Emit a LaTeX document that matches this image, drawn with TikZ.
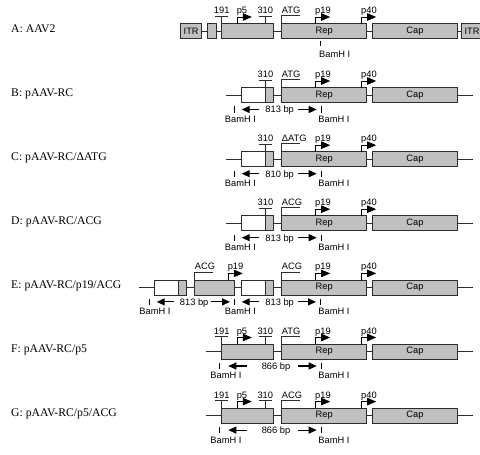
\documentclass[tikz,border=0pt]{standalone}
\usepackage{fontspec}
\setmainfont{Liberation Serif}
\newfontfamily\arialf{Liberation Sans}
\usetikzlibrary{arrows.meta,calc}
\definecolor{boxgray}{RGB}{192,192,192}
\definecolor{linec}{RGB}{45,45,45}
\newcommand\lab{\arialf\fontsize{9.3}{11}\selectfont}
\newcommand\rowf{\fontsize{11.7}{14}\selectfont}
\tikzset{
  gbox/.style={draw=linec, fill=boxgray, line width=0.8pt, minimum height=15pt, inner sep=0pt, font=\lab},
  wbox/.style={gbox, fill=white},
  lbl/.style={font=\lab, inner sep=0pt, anchor=base},
  lblw/.style={lbl, anchor=base west},
  rowlab/.style={font=\rowf, inner sep=0pt, anchor=base west},
  bb/.style={draw=linec, line width=0.8pt},
  mk/.style={draw=linec, line width=0.8pt},
  tk/.style={draw=black, line width=0.9pt},
  parr/.style={draw=black, line width=0.8pt, -{Triangle[length=9pt,width=7.4pt]}},
  darr/.style={draw=black, line width=1.1pt, -{Triangle[length=8pt,width=7pt]}}
}
% x, y, text, name : tick mark with label
\newcommand\mkbar[4]{%
  \draw[mk] (#1-6.3,#2-15) -- (#1+6.3,#2-15);
  \draw[mk] (#1,#2-15) -- (#1,#2-7.5);
  \node[lbl] (#4) at (#1,#2-17.5) {#3};}
% x, y, text, name : promoter arrow
\newcommand\prom[4]{%
  \draw[parr] (#1,#2-7.5) -- (#1,#2-14) -- (#1+14.5,#2-14);
  \node[lblw] (#4) at (#1-0.7,#2-17.5) {#3};}
% box, x, y, text, name : start codon
\newcommand\startc[5]{%
  \draw[mk] (#1.north west) -- ++(0,-7.5) -- ++(19,0);
  \node[lblw] (#5) at (#2,#3-17.5) {#4};}
% y, suffix, start text
\newcommand\repcap[3]{%
  \node[gbox,minimum width=85pt] (rep#2) at (324.2,#1) {Rep};
  \node[gbox,minimum width=85.4pt] (cap#2) at (415,#1) {Cap};
  \draw[bb] (rep#2) -- (cap#2);
  \startc{rep#2}{281.7}{#1}{#3}{st#2}
  \prom{315.7}{#1}{p19}{pn19#2}
  \prom{361.7}{#1}{p40}{pn40#2}}
% x, y, name : BamH I cut tick
\newcommand\bam[3]{%
  \coordinate (#3) at (#1,#2+14.5);
  \draw[tk] (#1,#2+11.3) -- (#1,#2+17.7);}
% x, y, name : BamH I label
\newcommand\bamlab[3]{\node[lbl] (#3) at (#1,#2+27.4) {BamH I};}
% y, ltip, ltail, textx, text, rtail, rtip, name
\newcommand\bpspan[8]{%
  \draw[darr] (#3,#1+14.5) -- (#2,#1+14.5);
  \node[lbl] (#8) at (#4,#1+17.9) {#5};
  \draw[darr] (#6,#1+14.5) -- (#7,#1+14.5);}
% y, suffix, start text, bp text : rows B, C, D
\newcommand\rcrow[4]{%
  \coordinate (s#2) at (226,#1);
  \node[wbox,minimum width=23.6pt] (w#2) at (253.5,#1) {};
  \node[gbox,minimum width=8pt] (g#2) at (269.3,#1) {};
  \repcap{#1}{#2}{#3}
  \coordinate (e#2) at (472.5,#1);
  \draw[bb] (s#2) -- (w#2);
  \draw[bb] (g#2) -- (rep#2);
  \draw[bb] (cap#2) -- (e#2);
  \mkbar{265.5}{#1}{310}{m310#2}
  \bam{234}{#1}{cl#2}
  \bam{321}{#1}{cr#2}
  \bpspan{#1}{241.7}{259.3}{279.7}{#4}{298.3}{316.7}{bp#2}
  \bamlab{240.5}{#1}{bnl#2}
  \bamlab{334}{#1}{bnr#2}}
% y, suffix, start text : rows F, G
\newcommand\pfrow[3]{%
  \coordinate (s#2) at (206,#1);
  \node[gbox,minimum width=51.6pt] (p5#2) at (247.5,#1) {};
  \repcap{#1}{#2}{#3}
  \coordinate (e#2) at (472.5,#1);
  \draw[bb] (s#2) -- (p5#2);
  \draw[bb] (p5#2) -- (rep#2);
  \draw[bb] (cap#2) -- (e#2);
  \mkbar{221.7}{#1}{191}{m191#2}
  \prom{237.3}{#1}{p5}{pn5#2}
  \mkbar{265.3}{#1}{310}{m310#2}
  \bam{219}{#1}{cl#2}
  \bam{321}{#1}{cr#2}
  \bpspan{#1}{228.3}{247.3}{276}{866 bp}{298.3}{316.7}{bp#2}
  \bamlab{226}{#1}{bnl#2}
  \bamlab{334}{#1}{bnr#2}}
\begin{document}
\begin{tikzpicture}[x=1pt,y=-1pt]
\useasboundingbox (0,0) rectangle (480,455);
\clip (0,0) rectangle (480,455);
\fill[white] (0,0) rectangle (480,455);

% Row labels
\node[rowlab] (labA) at (11,32.2) {A: AAV2};
\node[rowlab] (labB) at (11,96.2) {B: pAAV-RC};
\node[rowlab] (labC) at (11,160.4) {C: pAAV-RC/ΔATG};
\node[rowlab] (labD) at (11,224.4) {D: pAAV-RC/ACG};
\node[rowlab] (labE) at (11,288.6) {E: pAAV-RC/p19/ACG};
\node[rowlab] (labF) at (11,352.7) {F: pAAV-RC/p5};
\node[rowlab] (labG) at (11,416.8) {G: pAAV-RC/p5/ACG};

% Row A
\node[gbox,minimum width=21pt] (itrL) at (191.2,31) {ITR};
\node[gbox,minimum width=8.7pt] (smA) at (211.65,31) {};
\node[gbox,minimum width=51.6pt] (p5A) at (247.5,31) {};
\repcap{31}{A}{ATG}
\node[gbox,minimum width=22pt] (itrR) at (472,31) {ITR};
\draw[bb] (itrL) -- (smA);
\draw[bb] (smA) -- (p5A);
\draw[bb] (p5A) -- (repA);
\draw[bb] (capA) -- (itrR);
\mkbar{221.7}{31}{191}{m191A}
\prom{237.3}{31}{p5}{pn5A}
\mkbar{265.3}{31}{310}{m310A}
\coordinate (cutA) at (320.7,40.5);
\draw[tk] (cutA) -- (320.7,46);
\node[lblw] (bnA) at (319,57.4) {BamH I};

% Rows B, C, D
\rcrow{95}{B}{ATG}{813 bp}
\rcrow{159.2}{C}{ΔATG}{810 bp}
\rcrow{223.2}{D}{ACG}{813 bp}

% Row E
\coordinate (sE) at (139,287.4);
\node[wbox,minimum width=23.6pt] (wE1) at (166.1,287.4) {};
\node[gbox,minimum width=8pt] (gE1) at (181.9,287.4) {};
\node[gbox,minimum width=39.6pt] (aE) at (214.5,287.4) {};
\node[wbox,minimum width=23.6pt] (wE2) at (253.5,287.4) {};
\node[gbox,minimum width=8pt] (gE2) at (269.3,287.4) {};
\repcap{287.4}{E}{ACG}
\coordinate (eE) at (472.5,287.4);
\draw[bb] (sE) -- (wE1);
\draw[bb] (gE1) -- (aE);
\draw[bb] (aE) -- (wE2);
\draw[bb] (gE2) -- (repE);
\draw[bb] (capE) -- (eE);
\startc{aE}{194.7}{287.4}{ACG}{stE1}
\prom{228.3}{287.4}{p19}{pn19E1}
\bam{149}{287.4}{c1E}
\bam{234}{287.4}{c2E}
\bam{320}{287.4}{c3E}
\bpspan{287.4}{156.7}{174}{194.2}{813 bp}{211}{230}{bpE1}
\bpspan{287.4}{241.7}{259.3}{279.7}{813 bp}{298.3}{316}{bpE2}
\bamlab{155}{287.4}{bn1E}
\bamlab{240.5}{287.4}{bn2E}
\bamlab{334}{287.4}{bn3E}

% Rows F, G
\pfrow{351.5}{F}{ATG}
\pfrow{415.6}{G}{ACG}
\end{tikzpicture}
\end{document}
